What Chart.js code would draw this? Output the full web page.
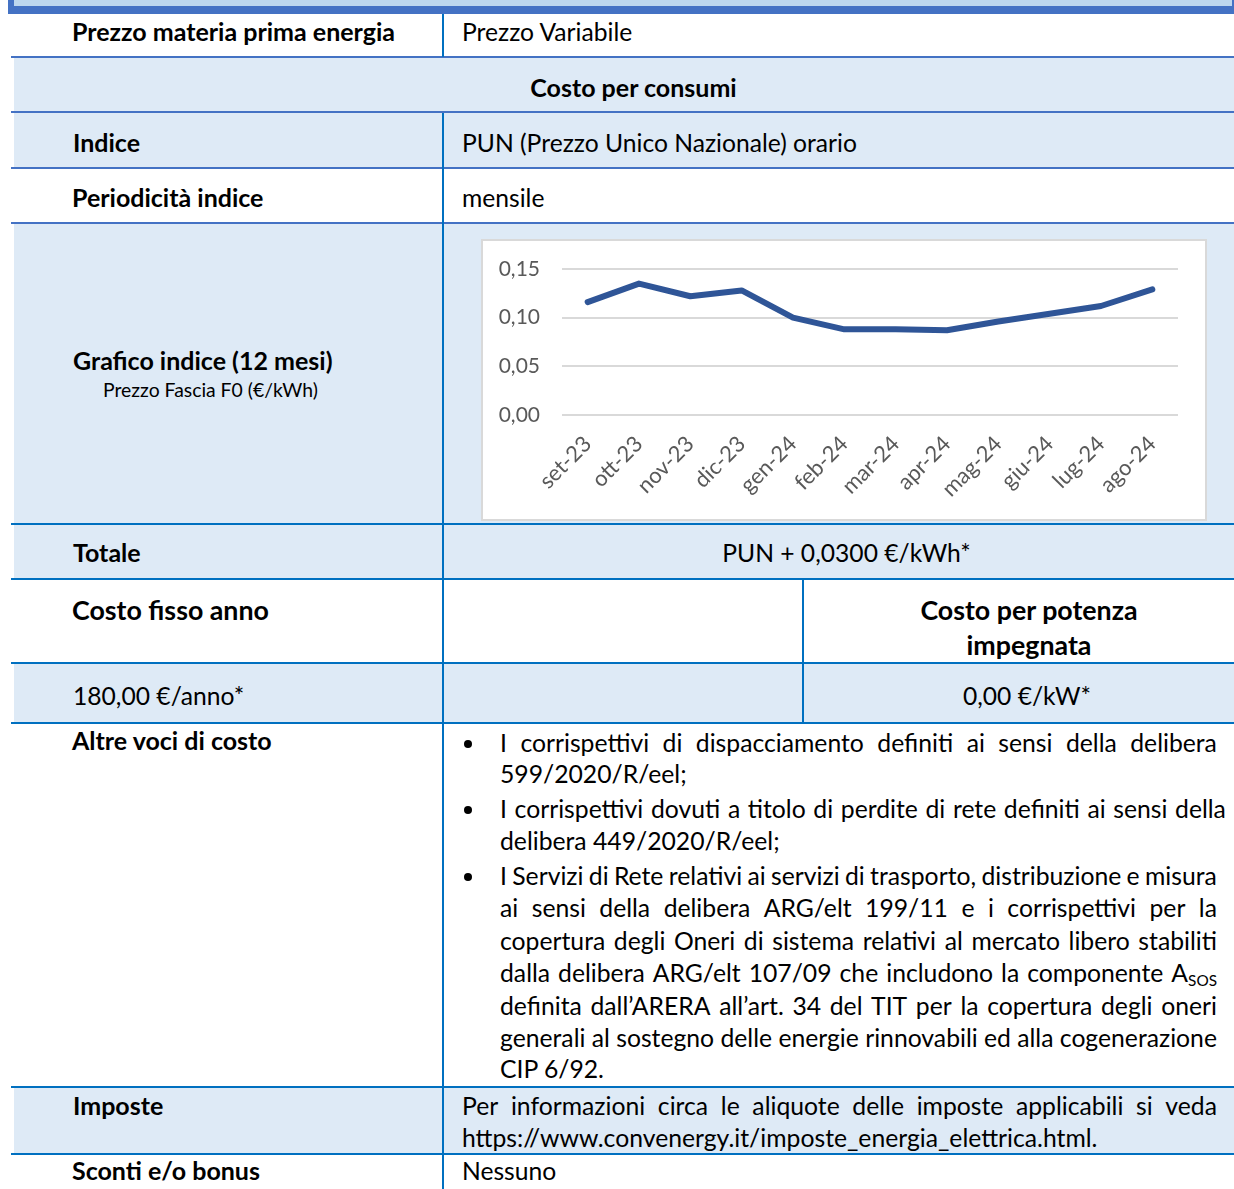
<!DOCTYPE html>
<html lang="it">
<head>
<meta charset="utf-8">
<title>Costo per consumi - PUN</title>
<script src="https://cdn.jsdelivr.net/npm/chart.js@4.4.1/dist/chart.umd.min.js"></script>
<style>
  html, body { margin:0; padding:0; }
  body { position:relative; width:1234px; height:1189px; overflow:hidden; background:#fff; font-family: Lato, "Open Sans", sans-serif; color:#000; }
  .bx { position:absolute; }
  .fill { background:#DEEAF6; }
  .h1 { background:#4472C4; height:2px; }
  .h2 { background:#0070C0; height:2px; }
  .v { background:#0070C0; width:2px; }
  .t { position:absolute; white-space:nowrap; line-height:1.2; }
  .t span { white-space:pre; }
  .r { font-weight:400; font-size:var(--fr, 23px); }
  .p { font-weight:400; font-size:var(--fp, 23px); }
  .b { font-weight:700; font-size:var(--fb, 23px); }
  .B { font-weight:700; font-size:var(--fB, 25px); }
  .s { font-weight:400; font-size:var(--fs, 18px); }
  .c { transform:translateX(-50%); }
  .bullet { position:absolute; width:8px; height:8px; border-radius:50%; background:#000; }
  sub { font-size:0.62em; line-height:0; vertical-align:-0.25em; }
  #chartBox { position:absolute; left:481px; top:239px; width:726px; height:282px; box-sizing:border-box; border:2px solid #D9D9D9; background:#fff; }
  #chartBox canvas { display:block; }
</style>
</head>
<body>
<!-- top frame -->
<div class="bx" style="left:14px;top:0;width:1218px;height:6px;background:#BDD7EE"></div>
<div class="bx" style="left:8px;top:0;width:6px;height:14px;background:#4472C4"></div>
<div class="bx" style="left:8px;top:6px;width:1226px;height:8px;background:#4472C4"></div>
<div class="bx" style="left:1232px;top:0;width:2px;height:6px;background:#4472C4"></div>

<!-- shaded rows -->
<div class="bx fill" style="left:14px;top:58px;width:1220px;height:54px"></div>
<div class="bx fill" style="left:14px;top:113px;width:1220px;height:55px"></div>
<div class="bx fill" style="left:14px;top:224px;width:1220px;height:300px"></div>
<div class="bx fill" style="left:14px;top:525px;width:1220px;height:54px"></div>
<div class="bx fill" style="left:14px;top:664px;width:1220px;height:59px"></div>
<div class="bx fill" style="left:14px;top:1088px;width:1220px;height:66px"></div>

<!-- horizontal rules -->
<div class="bx h1" style="left:11px;top:56px;width:1223px"></div>
<div class="bx h1" style="left:11px;top:111px;width:1223px"></div>
<div class="bx h1" style="left:11px;top:167px;width:1223px"></div>
<div class="bx h1" style="left:11px;top:222px;width:1223px"></div>
<div class="bx h2" style="left:11px;top:523px;width:1223px"></div>
<div class="bx h2" style="left:11px;top:578px;width:1223px"></div>
<div class="bx h2" style="left:11px;top:662px;width:1223px"></div>
<div class="bx h2" style="left:11px;top:722px;width:1223px"></div>
<div class="bx h2" style="left:11px;top:1086px;width:1223px"></div>
<div class="bx h2" style="left:11px;top:1153px;width:1223px"></div>

<!-- vertical rules -->
<div class="bx v" style="left:442px;top:14px;height:43px"></div>
<div class="bx v" style="left:442px;top:113px;height:1076px"></div>
<div class="bx v" style="left:802px;top:580px;height:143px"></div>

<div id="chartBox"><canvas id="pun" width="722" height="278"></canvas></div>

<script>
// ---- chart data ----
const months = ['set-23','ott-23','nov-23','dic-23','gen-24','feb-24','mar-24','apr-24','mag-24','giu-24','lug-24','ago-24'];
const punPrices = [0.116, 0.135, 0.122, 0.128, 0.100, 0.088, 0.088, 0.087, 0.096, 0.104, 0.112, 0.129];
const yTickValues = [0, 0.05, 0.10, 0.15];

// ---- page texts ----
const cells = [
  ['Prezzo materia prima energia','b',72,40.7],
  ['Prezzo Variabile','r',462,40.7],
  ['Costo per consumi','b',633.5,96.7,'c'],
  ['Indice','b',73,151.7],
  ['PUN (Prezzo Unico Nazionale) orario','r',462,151.7],
  ['Periodicità indice','b',72,206.7],
  ['mensile','r',462,206.7],
  ['Grafico indice (12 mesi)','b',73,370],
  ['Prezzo Fascia F0 (€/kWh)','s',103,396.7],
  ['Totale','b',73,561.7],
  ['PUN + 0,0300 €/kWh*','r',846.5,561.7,'c'],
  ['Costo fisso anno','B',72,620],
  ['Costo per potenza','B',1029,620,'c'],
  ['impegnata','B',1029,655,'c'],
  ['180,00 €/anno*','r',73,705],
  ['0,00 €/kW*','r',1027,705,'c'],
  ['Altre voci di costo','b',72,750],
  ['Imposte','b',73,1115],
  ['Sconti e/o bonus','b',72,1180],
  ['Nessuno','r',462,1180]
];
// [text, x, baseline, width (0 = natural), bullet]
const paraLines = [
  ['I corrispettivi di dispacciamento definiti ai sensi della delibera',500,751.7,717,true],
  ['599/2020/R/eel;',500,783.3,0,false],
  ['I corrispettivi dovuti a titolo di perdite di rete definiti ai sensi della',500,817.7,726,true],
  ['delibera 449/2020/R/eel;',500,850,0,false],
  ['I Servizi di Rete relativi ai servizi di trasporto, distribuzione e misura',500,885,717,true],
  ['ai sensi della delibera ARG/elt 199/11 e i corrispettivi per la',500,916.7,717,false],
  ['copertura degli Oneri di sistema relativi al mercato libero stabiliti',500,950,717,false],
  ['dalla delibera ARG/elt 107/09 che includono la componente A_SOS',500,981.7,717,false],
  ['definita dall’ARERA all’art. 34 del TIT per la copertura degli oneri',500,1015,717,false],
  ['generali al sostegno delle energie rinnovabili ed alla cogenerazione',500,1046.7,717,false],
  ['CIP 6/92.',500,1078.3,0,false],
  ['Per informazioni circa le aliquote delle imposte applicabili si veda',462,1115,755,false],
  ['https://www.convenergy.it/imposte_energia_elettrica.html.',462,1147,0,false]
];

function fit(text, weight, target) {
  const c = document.createElement('canvas').getContext('2d');
  c.font = weight + ' 100px Lato';
  return (100 * target / c.measureText(text).width).toFixed(2) + 'px';
}
function baseOffset(cls) {
  const p = document.createElement('div');
  p.className = 't ' + cls;
  p.style.left = '0px'; p.style.top = '0px';
  p.innerHTML = 'Hg<i style="display:inline-block;width:0;height:0;vertical-align:baseline"></i>';
  document.body.appendChild(p);
  const off = p.querySelector('i').getBoundingClientRect().top - p.getBoundingClientRect().top;
  p.remove();
  return off;
}
function fillWords(el, text) {
  text.split(' ').forEach(w => {
    const s = document.createElement('span');
    if (w === 'A_SOS') { s.innerHTML = 'A<sub>SOS</sub>'; } else { s.textContent = w; }
    el.appendChild(s);
  });
}

async function build() {
  try {
    await document.fonts.load('400 20px Lato');
    await document.fonts.load('700 20px Lato');
  } catch (e) {}
  const root = document.documentElement.style;
  root.setProperty('--fr', fit('PUN (Prezzo Unico Nazionale) orario', 400, 395));
  root.setProperty('--fp', fit('generali al sostegno delle energie rinnovabili ed alla cogenerazione', 400, 717));
  root.setProperty('--fb', fit('Prezzo materia prima energia', 700, 323));
  root.setProperty('--fB', fit('Costo fisso anno', 700, 197));
  root.setProperty('--fs', fit('Prezzo Fascia F0 (€/kWh)', 400, 215));

  const offs = {};
  ['r','p','b','B','s'].forEach(k => offs[k] = baseOffset(k));

  cells.forEach(([txt, cls, x, b, al]) => {
    const d = document.createElement('div');
    d.className = 't ' + cls + (al === 'c' ? ' c' : '');
    d.textContent = txt;
    d.style.left = x + 'px';
    d.style.top = (b - offs[cls]) + 'px';
    document.body.appendChild(d);
  });

  paraLines.forEach(([txt, x, b, w, bullet]) => {
    const d = document.createElement('div');
    d.className = 't p';
    d.style.left = x + 'px';
    d.style.top = (b - offs.p) + 'px';
    if (w) {
      d.style.display = 'flex';
      d.style.justifyContent = 'space-between';
      d.style.width = w + 'px';
      fillWords(d, txt);
    } else {
      d.textContent = txt;
    }
    document.body.appendChild(d);
    if (bullet) {
      const bl = document.createElement('div');
      bl.className = 'bullet';
      bl.style.left = '464px';
      bl.style.top = (b - 12) + 'px';
      document.body.appendChild(bl);
    }
  });

  const yFont = { family: 'Lato', size: 21 };
  const xFont = { family: 'Lato', size: 22 };
  new Chart(document.getElementById('pun'), {
    type: 'line',
    data: {
      labels: months,
      datasets: [{
        data: punPrices,
        borderColor: '#2F5597',
        backgroundColor: '#2F5597',
        borderWidth: 6,
        pointRadius: 0,
        pointHoverRadius: 0,
        tension: 0,
        fill: false,
        borderJoinStyle: 'round',
        borderCapStyle: 'round'
      }]
    },
    options: {
      responsive: false,
      animation: false,
      devicePixelRatio: 1,
      layout: { padding: { top: 28, right: 27, left: 0, bottom: 0 } },
      plugins: { legend: { display: false }, tooltip: { enabled: false } },
      scales: {
        x: {
          offset: true,
          grid: { display: false, drawTicks: false },
          border: { display: false },
          ticks: { minRotation: 45, maxRotation: 45, color: '#595959', font: xFont, padding: 16, autoSkip: false },
          afterFit(s) { s.height = 104; }
        },
        y: {
          min: 0, max: 0.15,
          afterBuildTicks(s) { s.ticks = yTickValues.map(v => ({ value: v })); },
          grid: { color: '#D9D9D9', lineWidth: 2, drawTicks: false },
          border: { display: false },
          ticks: { padding: 22, color: '#595959', font: yFont, callback: v => Number(v).toFixed(2).replace('.', ',') },
          afterFit(s) { s.width = 79; s.paddingTop = 0; s.paddingBottom = 0; }
        }
      }
    }
  });
}
build();
</script>
</body>
</html>
